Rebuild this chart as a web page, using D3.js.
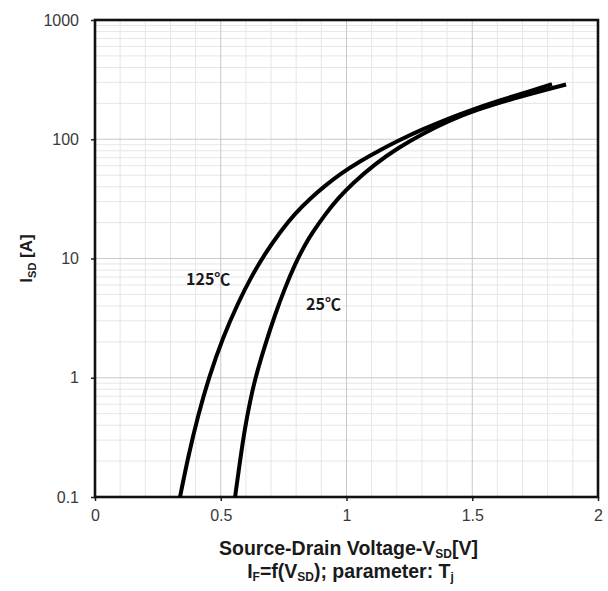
<!DOCTYPE html>
<html>
<head>
<meta charset="utf-8">
<script src="https://cdn.jsdelivr.net/npm/d3@7/dist/d3.min.js"></script>
<style>
  html, body { margin: 0; padding: 0; background: #fff; }
  svg { display: block; }
</style>
</head>
<body>
<svg id="chart" width="608" height="591"></svg>
<script>
// Source-drain diode forward characteristic, I_SD vs V_SD at two junction temperatures
const seriesNames = ["125℃", "25℃"];

const voltage125 = [0.338, 0.370, 0.410, 0.453, 0.509, 0.569, 0.620, 0.676, 0.736, 0.795, 0.855, 0.915, 0.974, 1.054, 1.133, 1.213, 1.300, 1.404, 1.479, 1.610, 1.742, 1.817];
const current125 = [0.1, 0.216, 0.486, 1.01, 2.19, 4.26, 6.94, 11.0, 16.7, 23.8, 31.8, 40.8, 51.1, 65.4, 81.2, 98.9, 120.6, 148.8, 171.0, 212.1, 258.3, 290.0];

const voltage25 = [0.557, 0.577, 0.596, 0.616, 0.636, 0.676, 0.716, 0.756, 0.795, 0.835, 0.867, 0.915, 0.966, 1.022, 1.113, 1.205, 1.300, 1.404, 1.511, 1.690, 1.873];
const current25 = [0.1, 0.204, 0.378, 0.625, 0.973, 1.88, 3.40, 5.71, 8.94, 13.1, 16.8, 23.4, 31.9, 42.2, 62.0, 84.6, 110.6, 141.8, 175.3, 228.3, 287.7];

const xTickValues = [0, 0.5, 1, 1.5, 2];
const xTickLabels = ["0", "0.5", "1", "1.5", "2"];
const yTickValues = [0.1, 1, 10, 100, 1000];
const yTickLabels = ["0.1", "1", "10", "100", "1000"];

const svg = d3.select("#chart");
const plotLeft = 95, plotRight = 598, plotTop = 20, plotBottom = 497;

const x = d3.scaleLinear().domain([0, 2]).range([plotLeft, plotRight]);
const y = d3.scaleLog().domain([0.1, 1000]).range([plotBottom, plotTop]);

// minor grid: every 0.1 V and 2..9 within each decade
const xMinor = d3.range(1, 20).map(i => i / 10).filter(v => Math.abs(v * 2 - Math.round(v * 2)) > 1e-6);
const yMinor = [];
for (let e = -1; e < 3; e++) for (let m = 2; m <= 9; m++) yMinor.push(m * Math.pow(10, e));

const grid = svg.append("g");
grid.selectAll(".xminor").data(xMinor).join("line")
  .attr("x1", d => x(d)).attr("x2", d => x(d)).attr("y1", plotTop).attr("y2", plotBottom)
  .attr("stroke", "#e6e6e6").attr("stroke-width", 1);
grid.selectAll(".yminor").data(yMinor).join("line")
  .attr("x1", plotLeft).attr("x2", plotRight).attr("y1", d => y(d)).attr("y2", d => y(d))
  .attr("stroke", "#e6e6e6").attr("stroke-width", 1);
grid.selectAll(".xmajor").data(xTickValues.slice(1, -1)).join("line")
  .attr("x1", d => x(d)).attr("x2", d => x(d)).attr("y1", plotTop).attr("y2", plotBottom)
  .attr("stroke", "#c8c8c8").attr("stroke-width", 1);
grid.selectAll(".ymajor").data(yTickValues.slice(1, -1)).join("line")
  .attr("x1", plotLeft).attr("x2", plotRight).attr("y1", d => y(d)).attr("y2", d => y(d))
  .attr("stroke", "#c8c8c8").attr("stroke-width", 1);

// axes with tick labels
const yAxis = d3.axisLeft(y).tickValues(yTickValues)
  .tickFormat((d, i) => yTickLabels[i]).tickSize(4).tickPadding(12);
const xAxis = d3.axisBottom(x).tickValues(xTickValues)
  .tickFormat((d, i) => xTickLabels[i]).tickSize(4).tickPadding(9);

const gy = svg.append("g").attr("transform", `translate(${plotLeft},0)`).call(yAxis);
const gx = svg.append("g").attr("transform", `translate(0,${plotBottom})`).call(xAxis);
[gx, gy].forEach(g => {
  g.select(".domain").remove();
  g.selectAll(".tick line").attr("stroke", "#222").attr("stroke-width", 1.5);
  g.selectAll(".tick text")
    .attr("font-family", "Liberation Sans, Arial, sans-serif")
    .attr("font-size", 16).attr("fill", "#3a3a3a");
});

// plot frame
svg.append("rect")
  .attr("x", plotLeft).attr("y", plotTop)
  .attr("width", plotRight - plotLeft).attr("height", plotBottom - plotTop)
  .attr("fill", "none").attr("stroke", "#111").attr("stroke-width", 2.6);

// curves (B-spline through the sampled points for a smooth trace)
const line = d3.line().x(d => x(d[0])).y(d => y(d[1])).curve(d3.curveBasis);
const curves = [
  d3.zip(voltage125, current125),
  d3.zip(voltage25, current25)
];
svg.append("g").selectAll("path").data(curves).join("path")
  .attr("d", line)
  .attr("fill", "none").attr("stroke", "#000").attr("stroke-width", 4)
  .attr("stroke-linecap", "butt").attr("stroke-linejoin", "round");

// series labels
const labelFont = "'Noto Sans CJK SC', 'DejaVu Sans', sans-serif";
svg.append("text").attr("x", 186).attr("y", 285)
  .attr("font-family", labelFont).attr("font-weight", "bold").attr("font-size", 16)
  .attr("fill", "#1a1a1a").text(seriesNames[0]);
svg.append("text").attr("x", 306).attr("y", 310)
  .attr("font-family", labelFont).attr("font-weight", "bold").attr("font-size", 16)
  .attr("fill", "#1a1a1a").text(seriesNames[1]);

// axis titles with subscripts
const titleFont = "Liberation Sans, Arial, sans-serif";
const xt = svg.append("text").attr("x", (plotLeft + plotRight) / 2 + 2).attr("y", 555)
  .attr("text-anchor", "middle").attr("font-family", titleFont)
  .attr("font-weight", "bold").attr("font-size", 19.5).attr("fill", "#1a1a1a");
xt.append("tspan").text("Source-Drain Voltage-V");
xt.append("tspan").attr("font-size", 12).attr("dy", 3).text("SD");
xt.append("tspan").attr("dy", -3).text("[V]");

const xt2 = svg.append("text").attr("x", (plotLeft + plotRight) / 2 + 4).attr("y", 578)
  .attr("text-anchor", "middle").attr("font-family", titleFont)
  .attr("font-weight", "bold").attr("font-size", 19.5).attr("fill", "#1a1a1a");
xt2.append("tspan").text("I");
xt2.append("tspan").attr("font-size", 12).attr("dy", 3).text("F");
xt2.append("tspan").attr("dy", -3).text("=f(V");
xt2.append("tspan").attr("font-size", 12).attr("dy", 3).text("SD");
xt2.append("tspan").attr("dy", -3).text("); parameter: T");
xt2.append("tspan").attr("font-size", 12).attr("dy", 3).text("j");

const yt = svg.append("text")
  .attr("transform", `translate(32,${(plotTop + plotBottom) / 2}) rotate(-90)`)
  .attr("text-anchor", "middle").attr("font-family", titleFont)
  .attr("font-weight", "bold").attr("font-size", 17).attr("fill", "#1a1a1a");
yt.append("tspan").text("I");
yt.append("tspan").attr("font-size", 11).attr("dy", 4).text("SD");
yt.append("tspan").attr("dy", -4).text(" [A]");
</script>
</body>
</html>
